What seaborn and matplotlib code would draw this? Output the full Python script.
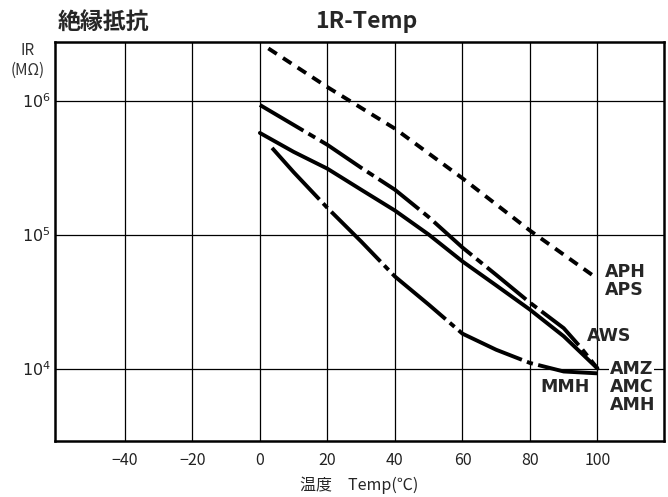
import numpy as np
import pandas as pd
import matplotlib
matplotlib.use("Agg")
import matplotlib.pyplot as plt
from matplotlib.ticker import NullLocator
import seaborn as sns

# 読み取り値 (温度 ℃ / 絶縁抵抗 MΩ)
aph_temp = [2.5, 20, 40, 60, 80, 100]
aph_ir = [2.45e6, 1.26e6, 6.17e5, 2.63e5, 1.07e5, 4.68e4]

aws_temp = [0, 10, 20, 30, 40, 50, 60, 70, 80, 90, 95, 100]
aws_ir = [9.27e5, 6.58e5, 4.67e5, 3.15e5, 2.16e5, 1.35e5, 8.0e4, 5.0e4, 3.1e4, 2.0e4, 1.44e4, 1.0e4]

amz_temp = [0, 10, 20, 30, 40, 50, 60, 70, 80, 90, 100]
amz_ir = [5.73e5, 4.14e5, 3.10e5, 2.16e5, 1.51e5, 1.0e5, 6.3e4, 4.17e4, 2.75e4, 1.74e4, 1.0e4]

mmh_temp = [3.6, 10, 20, 30, 40, 50, 60, 70, 80, 90, 100]
mmh_ir = [4.43e5, 2.92e5, 1.58e5, 8.87e4, 4.86e4, 3.0e4, 1.82e4, 1.38e4, 1.1e4, 9.5e3, 9.2e3]

x_ticks = [-40, -20, 0, 20, 40, 60, 80, 100]
y_ticks = [1e4, 1e5, 1e6]
y_labels = [r'$10^{4}$', r'$10^{5}$', r'$10^{6}$']

sns.set_style("white")
plt.rcParams['font.family'] = ['Noto Sans CJK JP', 'DejaVu Sans']

fig = plt.figure(figsize=(6.68, 4.97), dpi=100)
ax = fig.add_axes([0.0823, 0.1127, 0.9117, 0.8028])

# 曲線
sns.lineplot(x=aph_temp, y=aph_ir, ax=ax, color='black', lw=2.8, linestyle=(0, (2.6, 1.9)))
sns.lineplot(x=aws_temp, y=aws_ir, ax=ax, color='black', lw=2.8, linestyle=(0, (13, 1.5, 2, 1.5)))
sns.lineplot(x=amz_temp, y=amz_ir, ax=ax, color='black', lw=2.8)
sns.lineplot(x=mmh_temp, y=mmh_ir, ax=ax, color='black', lw=2.8, linestyle=(0, (18, 1.4, 1.6, 1.4)))

ax.set_yscale('log')
ax.set_xlim(-60.7, 119.7)
ax.set_ylim(10 ** 3.459, 10 ** 6.437)
ax.set_xticks(x_ticks)
ax.set_yticks(y_ticks)
ax.set_yticklabels(y_labels)
ax.yaxis.set_minor_locator(NullLocator())
ax.grid(True, which='major', color='black', lw=0.9)
ax.tick_params(length=0, labelsize=11.5, labelcolor='#222222')
ax.tick_params(axis='x', pad=8)
ax.tick_params(axis='y', pad=3)
for s in ax.spines.values():
    s.set_color('black')
    s.set_linewidth(1.8)

ax.set_xlabel('温度　Temp(℃)', fontsize=11.5, labelpad=5)
ax.set_ylabel('')

# 系列ラベル
lab_kw = dict(fontsize=12.5, fontweight='bold', family='DejaVu Sans', va='center')
ax.text(102.2, 10 ** 4.72, 'APH', ha='left', **lab_kw)
ax.text(102.2, 10 ** 4.586, 'APS', ha='left', **lab_kw)
ax.text(96.9, 10 ** 4.243, 'AWS', ha='left', **lab_kw)
ax.text(103.7, 10 ** 4.0, 'AMZ', ha='left', bbox=dict(fc='white', ec='none', pad=0.5), **lab_kw)
ax.text(103.7, 10 ** 3.86, 'AMC', ha='left', **lab_kw)
ax.text(103.7, 10 ** 3.727, 'AMH', ha='left', **lab_kw)
ax.text(97.8, 10 ** 3.86, 'MMH', ha='right', **lab_kw)

fig.text(0.087, 0.956, '絶縁抵抗', fontsize=16.5, fontweight='bold', va='center', ha='left')
fig.text(0.549, 0.956, '1R-Temp', fontsize=16.5, fontweight='bold', va='center', ha='center')
fig.text(0.042, 0.898, 'IR', fontsize=11, color='#333333', va='center', ha='center')
fig.text(0.042, 0.859, '(MΩ)', fontsize=11, color='#333333', va='center', ha='center')

fig.savefig('out.png', dpi=100)
